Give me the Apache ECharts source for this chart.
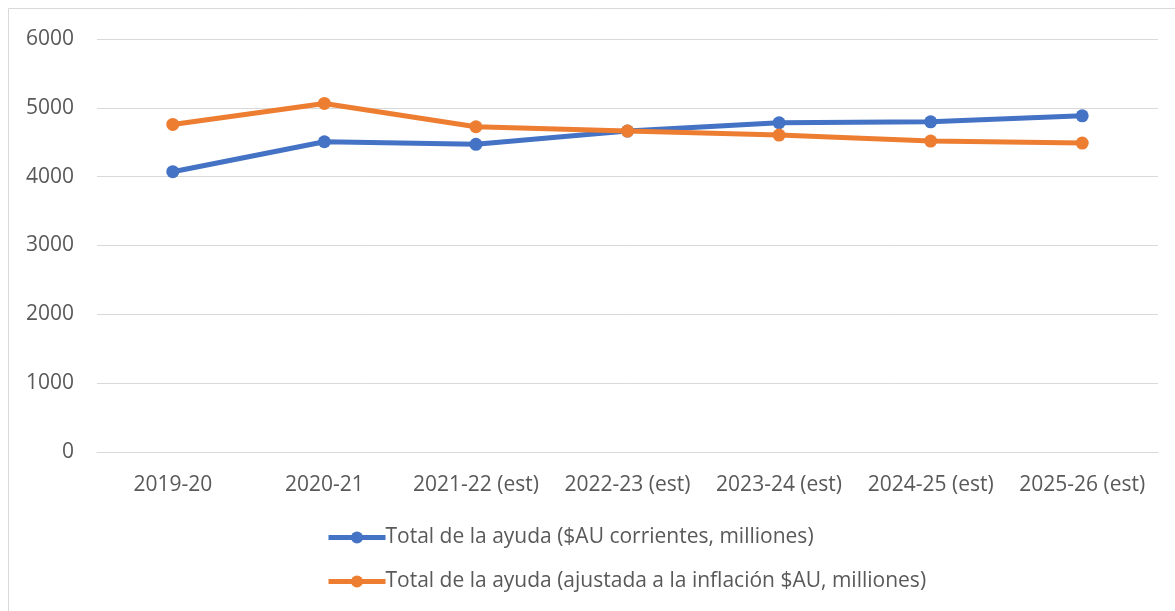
<!DOCTYPE html>
<html>
<head>
<meta charset="utf-8">
<script src="https://cdn.jsdelivr.net/npm/echarts@6/dist/echarts.min.js"></script>
<style>html,body{margin:0;padding:0;background:#fff}#c{width:1175px;height:611px}</style>
</head>
<body>
<div id="c"></div>
<script>
const categories = ['2019-20', '2020-21', '2021-22 (est)', '2022-23 (est)', '2023-24 (est)', '2024-25 (est)', '2025-26 (est)'];
const seriesCurrentName = 'Total de la ayuda ($AU corrientes, milliones)';
const seriesCurrent = [4072, 4507, 4470, 4662, 4783, 4797, 4884];
const seriesInflationName = 'Total de la ayuda (ajustada a la inflación $AU, milliones)';
const seriesInflation = [4759, 5064, 4725, 4662, 4604, 4517, 4488];
const yTicks = { min: 0, max: 6000, interval: 1000 };

const FONT = 'Open Sans';
const chart = echarts.init(document.getElementById('c'));
chart.setOption({
  animation: false,
  backgroundColor: '#fff',
  graphic: [{
    type: 'rect', silent: true, z: -10,
    shape: { x: 8.5, y: 8.5, width: 1200, height: 700 },
    style: { fill: 'none', stroke: '#d9d9d9', lineWidth: 1 }
  }],
  grid: { left: 97, right: 17, top: 39, bottom: 159, containLabel: false },
  legend: {
    orient: 'vertical', left: 321, top: 522, itemGap: 23,
    itemWidth: 57, itemHeight: 15,
    lineStyle: { width: 5 },
    textStyle: { fontFamily: FONT, fontSize: 21, color: '#595959', padding: [0, 0, 0, -5] },
    data: [seriesCurrentName, seriesInflationName]
  },
  xAxis: {
    type: 'category', data: categories, boundaryGap: true,
    axisLine: { show: true, lineStyle: { color: '#d9d9d9', width: 1 } },
    axisTick: { show: false },
    axisLabel: { fontFamily: FONT, fontSize: 21, color: '#595959', margin: 23, interval: 0 }
  },
  yAxis: {
    type: 'value', min: yTicks.min, max: yTicks.max, interval: yTicks.interval,
    axisLine: { show: false }, axisTick: { show: false },
    axisLabel: { fontFamily: FONT, fontSize: 21, color: '#595959', margin: 23, formatter: v => String(v) },
    splitLine: { lineStyle: { color: '#d9d9d9', width: 1 } }
  },
  series: [
    {
      name: seriesCurrentName, type: 'line', data: seriesCurrent,
      symbol: 'circle', symbolSize: 13,
      lineStyle: { color: '#4472c4', width: 5 },
      itemStyle: { color: '#4472c4' }, z: 2
    },
    {
      name: seriesInflationName, type: 'line', data: seriesInflation,
      symbol: 'circle', symbolSize: 13,
      lineStyle: { color: '#ed7d31', width: 5 },
      itemStyle: { color: '#ed7d31' }, z: 3
    }
  ]
});
</script>
</body>
</html>
